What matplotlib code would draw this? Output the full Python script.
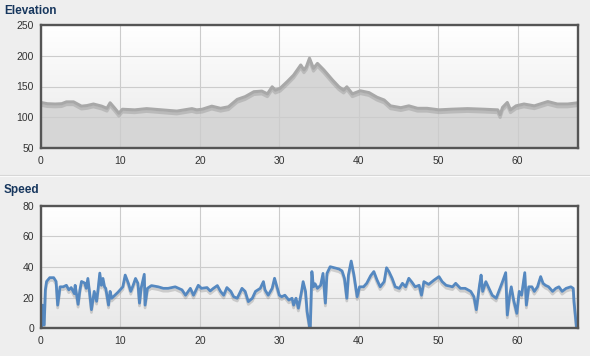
import numpy as np
import matplotlib
matplotlib.use('Agg')
import matplotlib.pyplot as plt
import matplotlib.patheffects as pe
from matplotlib.colors import LinearSegmentedColormap

plt.rcParams['font.family'] = ['Liberation Sans', 'DejaVu Sans']

# elevation profile (distance, elevation)
elev_x = [0, 0.8, 1.8, 2.6, 3.2, 4.1, 5.1, 5.8, 6.6, 7.65, 8.3, 8.7, 9.3, 9.8,
          10.25, 11.8, 13.3, 15.2, 17.1, 19.0, 19.6, 20.3, 21.5, 22.6, 23.6,
          24.7, 25.7, 26.8, 27.8, 28.5, 29.1, 29.5, 30.1, 31.0, 31.8, 32.7,
          33.1, 33.4, 33.8, 34.3, 34.8, 35.6, 36.7, 37.5, 38.1, 38.5, 39.2,
          40.2, 41.3, 42.3, 43.2, 44.0, 45.3, 46.3, 47.4, 48.6, 50.1, 51.6,
          53.7, 55.8, 57.5, 57.8, 58.1, 58.7, 59.1, 59.8, 60.8, 62.1, 63.8,
          65.0, 66.3, 67.6]
elev_y = [124, 122, 121.5, 122, 125, 125, 118, 119, 121.5, 118, 114.5, 123.5,
          114.5, 106.5, 113, 112, 114, 112, 110, 114, 112, 113, 118, 114.5, 117,
          129, 133.5, 141.5, 142.5, 138, 149.5, 144, 147, 158, 168.5, 185,
          177, 182, 196, 179.5, 187.5, 177, 160.5, 149.5, 144, 149.5, 138,
          143, 140, 132.5, 128, 118.5, 115.5, 118.5, 114.5, 114.5, 112, 113,
          114, 113, 112, 104, 116, 124, 112, 118.5, 121.5, 118.5, 125.5,
          121.5, 121.5, 123.5]

# speed (distance, speed)
speed_x = [0.0, 0.1, 0.17, 0.25, 0.4, 0.55, 0.7, 1.1, 1.6, 1.9, 2.1, 2.4, 2.8,
           3.2, 3.5, 3.8, 4.2, 4.3, 4.67, 4.9, 5.1, 5.5, 5.7, 5.9, 6.1, 6.35,
           6.7, 7.0, 7.2, 7.4, 7.6, 7.8, 8.0, 8.15, 8.3, 8.5, 8.7, 8.9, 9.3,
           9.7, 10.3, 10.6, 11.0, 11.3, 11.6, 11.9, 12.2, 12.4, 12.6, 13.0,
           13.1, 13.4, 13.9, 14.75, 15.4, 16.0, 16.9, 17.75, 18.2, 18.8, 19.2,
           19.8, 20.2, 20.9, 21.3, 21.7, 22.2, 22.6, 23.0, 23.4, 23.9, 24.25,
           24.7, 25.3, 25.7, 26.1, 26.6, 27.0, 27.6, 28.0, 28.2, 28.6, 29.1,
           29.4, 29.7, 30.0, 30.3, 30.7, 31.2, 31.6, 31.8, 32.1, 32.4, 32.8,
           33.0, 33.3, 33.5, 33.8, 33.9, 34.1, 34.3, 34.5, 34.8, 35.2, 35.5,
           35.8, 36.0, 36.4, 36.9, 37.5, 37.9, 38.2, 38.5, 38.7, 39.05, 39.4,
           39.8, 40.1, 40.6, 41.0, 41.5, 41.9, 42.3, 42.7, 43.2, 43.5, 43.8,
           44.2, 44.6, 45.1, 45.5, 45.9, 46.3, 46.7, 47.1, 47.6, 47.9, 48.2,
           48.8, 49.5, 50.1, 50.5, 51.0, 51.8, 52.2, 52.8, 53.4, 54.1, 54.5,
           54.8, 55.2, 55.4, 55.6, 56.0, 56.4, 56.8, 57.3, 57.7, 58.1, 58.5,
           58.7, 59.0, 59.2, 59.5, 59.9, 60.2, 60.5, 60.9, 61.1, 61.4, 61.8,
           62.1, 62.5, 62.9, 63.2, 63.5, 63.9, 64.4, 64.8, 65.2, 65.6, 66.1,
           66.7, 67.0, 67.1, 67.4, 67.6]
speed_y = [0, 1, 15, 3, 2, 25, 30.5, 33, 33, 30.5, 15, 27, 27,
           28, 25, 26.5, 22.5, 28, 15.5, 25, 30.5, 29.5, 26, 32.5, 24, 12,
           24, 17.5, 26, 36, 28, 32.5, 27, 26, 21.5, 15, 24, 19.5, 21.5,
           23.5, 27, 34.7, 29.3, 24, 28, 32.5, 29.3, 16.3, 26, 35.2,
           15, 26, 27.8, 27, 26, 26, 27, 25, 21.5, 26, 21.5,
           28, 26, 26.5, 24.3, 26, 27.8, 24, 21.5, 26.5, 24, 20.5,
           19.5, 26, 24, 17.3, 19.5, 24, 26, 30.4, 25, 21.5, 26,
           32.6, 27, 21.5, 20.5, 21.5, 18.3, 19.5, 15, 19.5, 13, 24,
           30.4, 24, 10.7, 1, 0.5, 37, 27, 29, 26, 28, 35.8,
           16.3, 35.8, 40.2, 39.5, 38.7, 37.4, 32.6, 19.5, 34.7, 43.9, 34.7,
           20.5, 27, 27, 29.3, 34.3, 37, 31.5, 27, 30.4, 39.5, 37,
           32.6, 27, 26, 29.3, 27, 32.6, 30, 27, 28, 21.5, 30.4,
           28.6, 31.5, 33.7, 30.4, 28, 27, 29.3, 26, 26, 24, 20.5,
           12, 28, 34.7, 24, 30.4, 26, 21.5, 19.5, 25, 30.4, 36.3,
           8.5, 21.5, 27, 18.3, 9.6, 24, 21.5, 36.3, 15, 27, 27,
           24, 27, 33.7, 29.3, 28, 27, 24, 26, 27, 24, 26,
           27, 26, 17.3, 1, 0]

x_ticks = [0, 10, 20, 30, 40, 50, 60]
elev_ticks = [50, 100, 150, 200, 250]
speed_ticks = [0, 20, 40, 60, 80]

W, H = 590, 356
fig = plt.figure(figsize=(W / 100, H / 100), dpi=100)
fig.patch.set_facecolor('#eeeeee')

bg_cmap = LinearSegmentedColormap.from_list('bg', ['#e9e9e9', '#ffffff'])


def style_axes(ax, yticks):
    ax.imshow(np.linspace(0, 1, 100)[:, None], extent=(0, 1, 0, 1),
              transform=ax.transAxes, aspect='auto', cmap=bg_cmap,
              origin='lower', zorder=0)
    ax.set_xlim(0, 67.6)
    ax.set_ylim(yticks[0], yticks[-1])
    ax.set_xticks(x_ticks)
    ax.set_yticks(yticks)
    ax.set_axisbelow(False)
    ax.grid(True, color='#cccccc', linewidth=0.8)
    ax.tick_params(length=0, labelsize=7.5, labelcolor='#333333')
    ax.tick_params(axis='x', pad=6)
    ax.tick_params(axis='y', pad=5)
    for s in ax.spines.values():
        s.set_color('#555555')
        s.set_linewidth(1.7)
        s.set_zorder(5)


shadow = [pe.SimpleLineShadow(offset=(0, -2), shadow_color='#888888', alpha=0.35),
          pe.Normal()]

ax1 = fig.add_axes([41 / W, 1 - 148 / H, 537 / W, 123 / H])
style_axes(ax1, elev_ticks)
ax1.fill_between(elev_x, elev_ticks[0], elev_y, color='#d6d6d6', zorder=1)
ax1.plot(elev_x, elev_y, color='#a8a8a8', linewidth=2.2, zorder=3,
         solid_joinstyle='round', path_effects=shadow)
ax1.set_xlim(0, 67.6)
ax1.set_ylim(50, 250)

ax2 = fig.add_axes([41 / W, 1 - 328 / H, 537 / W, 122 / H])
style_axes(ax2, speed_ticks)
ax2.plot(speed_x, speed_y, color='#5588c0', linewidth=2.0, zorder=3,
         solid_joinstyle='round', path_effects=shadow, clip_on=True)
ax2.set_xlim(0, 67.6)
ax2.set_ylim(0, 80)

fig.text(4 / W, 1 - 11 / H, 'Elevation', fontsize=8.5, fontweight='bold',
         color='#17375e', va='center', ha='left')
fig.text(4 / W, 1 - 190 / H, 'Speed', fontsize=8.5, fontweight='bold',
         color='#17375e', va='center', ha='left')
fig.add_artist(plt.Line2D([0, 1], [1 - 175 / H, 1 - 175 / H], color='#d6d6d6',
                          linewidth=0.8, transform=fig.transFigure))
fig.add_artist(plt.Line2D([0, 1], [1 - 176 / H, 1 - 176 / H], color='#fafafa',
                          linewidth=0.8, transform=fig.transFigure))

fig.savefig('out.png', dpi=100, facecolor=fig.get_facecolor())
